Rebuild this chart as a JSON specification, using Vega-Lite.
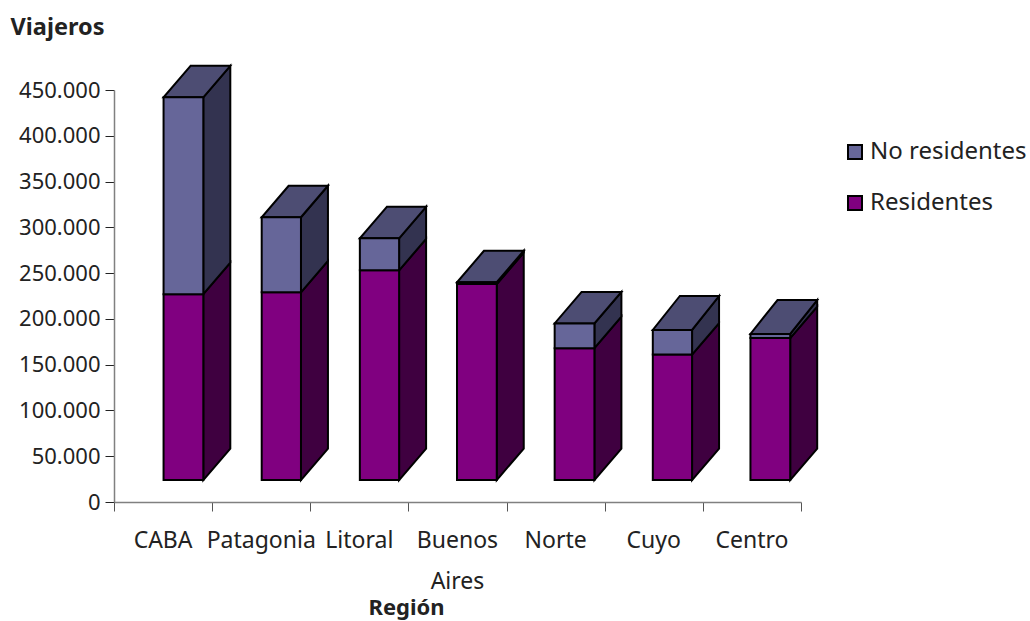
{
"$schema":"https://vega.github.io/schema/vega-lite/v6.json",
"width":687,"height":412,
"autosize":{"type":"none"},
"padding":{"left":114,"top":90,"right":229,"bottom":119},
"background":"white",
"config":{"view":{"stroke":null},"font":"Noto Sans"},
"datasets":{
"front":[
{"region":"CABA","serie":"Residentes","x":0.505,"x2":0.91,"y":24000,"y2":227000},
{"region":"CABA","serie":"No residentes","x":0.505,"x2":0.91,"y":227000,"y2":442000},
{"region":"Patagonia","serie":"Residentes","x":1.505,"x2":1.905,"y":24000,"y2":229000},
{"region":"Patagonia","serie":"No residentes","x":1.505,"x2":1.905,"y":229000,"y2":311000},
{"region":"Litoral","serie":"Residentes","x":2.505,"x2":2.905,"y":24000,"y2":253000},
{"region":"Litoral","serie":"No residentes","x":2.505,"x2":2.905,"y":253000,"y2":288000},
{"region":"Buenos Aires","serie":"Residentes","x":3.495,"x2":3.9,"y":24000,"y2":238000},
{"region":"Buenos Aires","serie":"No residentes","x":3.495,"x2":3.9,"y":238000,"y2":240000},
{"region":"Norte","serie":"Residentes","x":4.49,"x2":4.895,"y":24000,"y2":168000},
{"region":"Norte","serie":"No residentes","x":4.49,"x2":4.895,"y":168000,"y2":195000},
{"region":"Cuyo","serie":"Residentes","x":5.49,"x2":5.89,"y":24000,"y2":161000},
{"region":"Cuyo","serie":"No residentes","x":5.49,"x2":5.89,"y":161000,"y2":188000},
{"region":"Centro","serie":"Residentes","x":6.485,"x2":6.89,"y":24000,"y2":179000},
{"region":"Centro","serie":"No residentes","x":6.485,"x2":6.89,"y":179000,"y2":183500}
],
"side":[
{"region":"CABA","serie":"Residentes","x":0.91,"y":24000,"y2":227000},
{"region":"CABA","serie":"Residentes","x":1.185,"y":58400,"y2":261400},
{"region":"CABA","serie":"No residentes","x":0.91,"y":227000,"y2":442000},
{"region":"CABA","serie":"No residentes","x":1.185,"y":261400,"y2":476400},
{"region":"Patagonia","serie":"Residentes","x":1.905,"y":24000,"y2":229000},
{"region":"Patagonia","serie":"Residentes","x":2.18,"y":58400,"y2":263400},
{"region":"Patagonia","serie":"No residentes","x":1.905,"y":229000,"y2":311000},
{"region":"Patagonia","serie":"No residentes","x":2.18,"y":263400,"y2":345400},
{"region":"Litoral","serie":"Residentes","x":2.905,"y":24000,"y2":253000},
{"region":"Litoral","serie":"Residentes","x":3.18,"y":58400,"y2":287400},
{"region":"Litoral","serie":"No residentes","x":2.905,"y":253000,"y2":288000},
{"region":"Litoral","serie":"No residentes","x":3.18,"y":287400,"y2":322400},
{"region":"Buenos Aires","serie":"Residentes","x":3.9,"y":24000,"y2":238000},
{"region":"Buenos Aires","serie":"Residentes","x":4.175,"y":58400,"y2":272400},
{"region":"Buenos Aires","serie":"No residentes","x":3.9,"y":238000,"y2":240000},
{"region":"Buenos Aires","serie":"No residentes","x":4.175,"y":272400,"y2":274400},
{"region":"Norte","serie":"Residentes","x":4.895,"y":24000,"y2":168000},
{"region":"Norte","serie":"Residentes","x":5.17,"y":58400,"y2":202400},
{"region":"Norte","serie":"No residentes","x":4.895,"y":168000,"y2":195000},
{"region":"Norte","serie":"No residentes","x":5.17,"y":202400,"y2":229400},
{"region":"Cuyo","serie":"Residentes","x":5.89,"y":24000,"y2":161000},
{"region":"Cuyo","serie":"Residentes","x":6.165,"y":58400,"y2":195400},
{"region":"Cuyo","serie":"No residentes","x":5.89,"y":161000,"y2":188000},
{"region":"Cuyo","serie":"No residentes","x":6.165,"y":195400,"y2":225000},
{"region":"Centro","serie":"Residentes","x":6.89,"y":24000,"y2":179000},
{"region":"Centro","serie":"Residentes","x":7.165,"y":58400,"y2":213400},
{"region":"Centro","serie":"No residentes","x":6.89,"y":179000,"y2":183500},
{"region":"Centro","serie":"No residentes","x":7.165,"y":213400,"y2":220600}
],
"top":[
{"region":"CABA","y":442000,"x":0.505,"x2":0.91},
{"region":"CABA","y":476400,"x":0.78,"x2":1.185},
{"region":"Patagonia","y":311000,"x":1.505,"x2":1.905},
{"region":"Patagonia","y":345400,"x":1.78,"x2":2.18},
{"region":"Litoral","y":288000,"x":2.505,"x2":2.905},
{"region":"Litoral","y":322400,"x":2.78,"x2":3.18},
{"region":"Buenos Aires","y":240000,"x":3.495,"x2":3.9},
{"region":"Buenos Aires","y":274400,"x":3.77,"x2":4.175},
{"region":"Norte","y":195000,"x":4.49,"x2":4.895},
{"region":"Norte","y":229400,"x":4.765,"x2":5.17},
{"region":"Cuyo","y":188000,"x":5.49,"x2":5.89},
{"region":"Cuyo","y":225000,"x":5.765,"x2":6.165},
{"region":"Centro","y":183500,"x":6.485,"x2":6.89},
{"region":"Centro","y":220600,"x":6.76,"x2":7.165}
],
"regions":[{"region":"CABA"},{"region":"Patagonia"},{"region":"Litoral"},{"region":"Buenos Aires"},{"region":"Norte"},{"region":"Cuyo"},{"region":"Centro"}]
},
"resolve":{"scale":{"x":"independent"},"axis":{"x":"independent"}},
"layer":[
{"layer":[
{"data":{"name":"side"},
"mark":{"type":"area","orient":"vertical","stroke":"black","strokeWidth":2,"strokeJoin":"miter"},
"encoding":{
"x":{"field":"x","type":"quantitative","scale":{"domain":[0,7]},
"axis":{"orient":"bottom","values":[0,1,2,3,4,5,6,7],"labels":false,"title":null,"grid":false,"tickSize":9,"tickColor":"#555555","tickWidth":1,"domainColor":"#808080","domainWidth":1.5}},
"y":{"field":"y","type":"quantitative","stack":null,"scale":{"domain":[0,450000],"nice":false},
"axis":{"values":[0,50000,100000,150000,200000,250000,300000,350000,400000,450000],"labelExpr":"replace(format(datum.value,','),',','.')","grid":false,"tickSize":9,"tickColor":"#222222","tickWidth":1,"domainColor":"#808080","domainWidth":1.5,"labelFontSize":22,"labelColor":"#222222","labelPadding":5,"title":"Viajeros","titleAngle":0,"titleAlign":"left","titleBaseline":"alphabetic","titleX":-104,"titleY":-56,"titleFontSize":23.5,"titleFontWeight":"bold","titleColor":"#222222"}},
"y2":{"field":"y2"},
"detail":[{"field":"region"},{"field":"serie"}],
"fill":{"condition":{"test":"datum.serie==='Residentes'","value":"#3f0040"},"value":"#333350"}
}},
{"data":{"name":"top"},
"mark":{"type":"area","orient":"horizontal","stroke":"black","strokeWidth":2,"fill":"#4d4d73"},
"encoding":{
"y":{"field":"y","type":"quantitative","stack":null},
"x":{"field":"x","type":"quantitative","stack":null},
"x2":{"field":"x2"},
"detail":{"field":"region"}
}},
{"data":{"name":"front"},
"mark":{"type":"rect","stroke":"black","strokeWidth":2},
"encoding":{
"x":{"field":"x","type":"quantitative"},
"x2":{"field":"x2"},
"y":{"field":"y","type":"quantitative"},
"y2":{"field":"y2"},
"fill":{"field":"serie","type":"nominal","scale":{"domain":["No residentes","Residentes"],"range":["#666699","#800080"]},
"legend":{"title":null,"orient":"none","legendX":729,"legendY":50,"symbolType":"square","symbolSize":196,"symbolStrokeColor":"black","symbolStrokeWidth":2,"labelFontSize":24,"labelColor":"#222222","rowPadding":27,"labelOffset":3,"symbolOpacity":1,"labelLimit":300}}
}}
]},
{"data":{"name":"regions"},
"mark":{"type":"text","opacity":0,"text":"."},
"encoding":{
"x":{"field":"region","type":"nominal","sort":null,"scale":{"type":"band","paddingInner":0,"paddingOuter":0},
"axis":{"orient":"bottom","ticks":false,"domain":false,"grid":false,"labelAngle":0,"labelExpr":"split(datum.label,' ')","labelLineHeight":41,"labelFontSize":23,"labelColor":"#222222","labelPadding":27,"labelBaseline":"top","labelLimit":300,"labelOverlap":false,"title":"Región","titleFontSize":22,"titleFontWeight":"bold","titleColor":"#222222","titleX":292,"titleY":112,"titleAlign":"center","titleBaseline":"alphabetic"}}
}}
]
}
